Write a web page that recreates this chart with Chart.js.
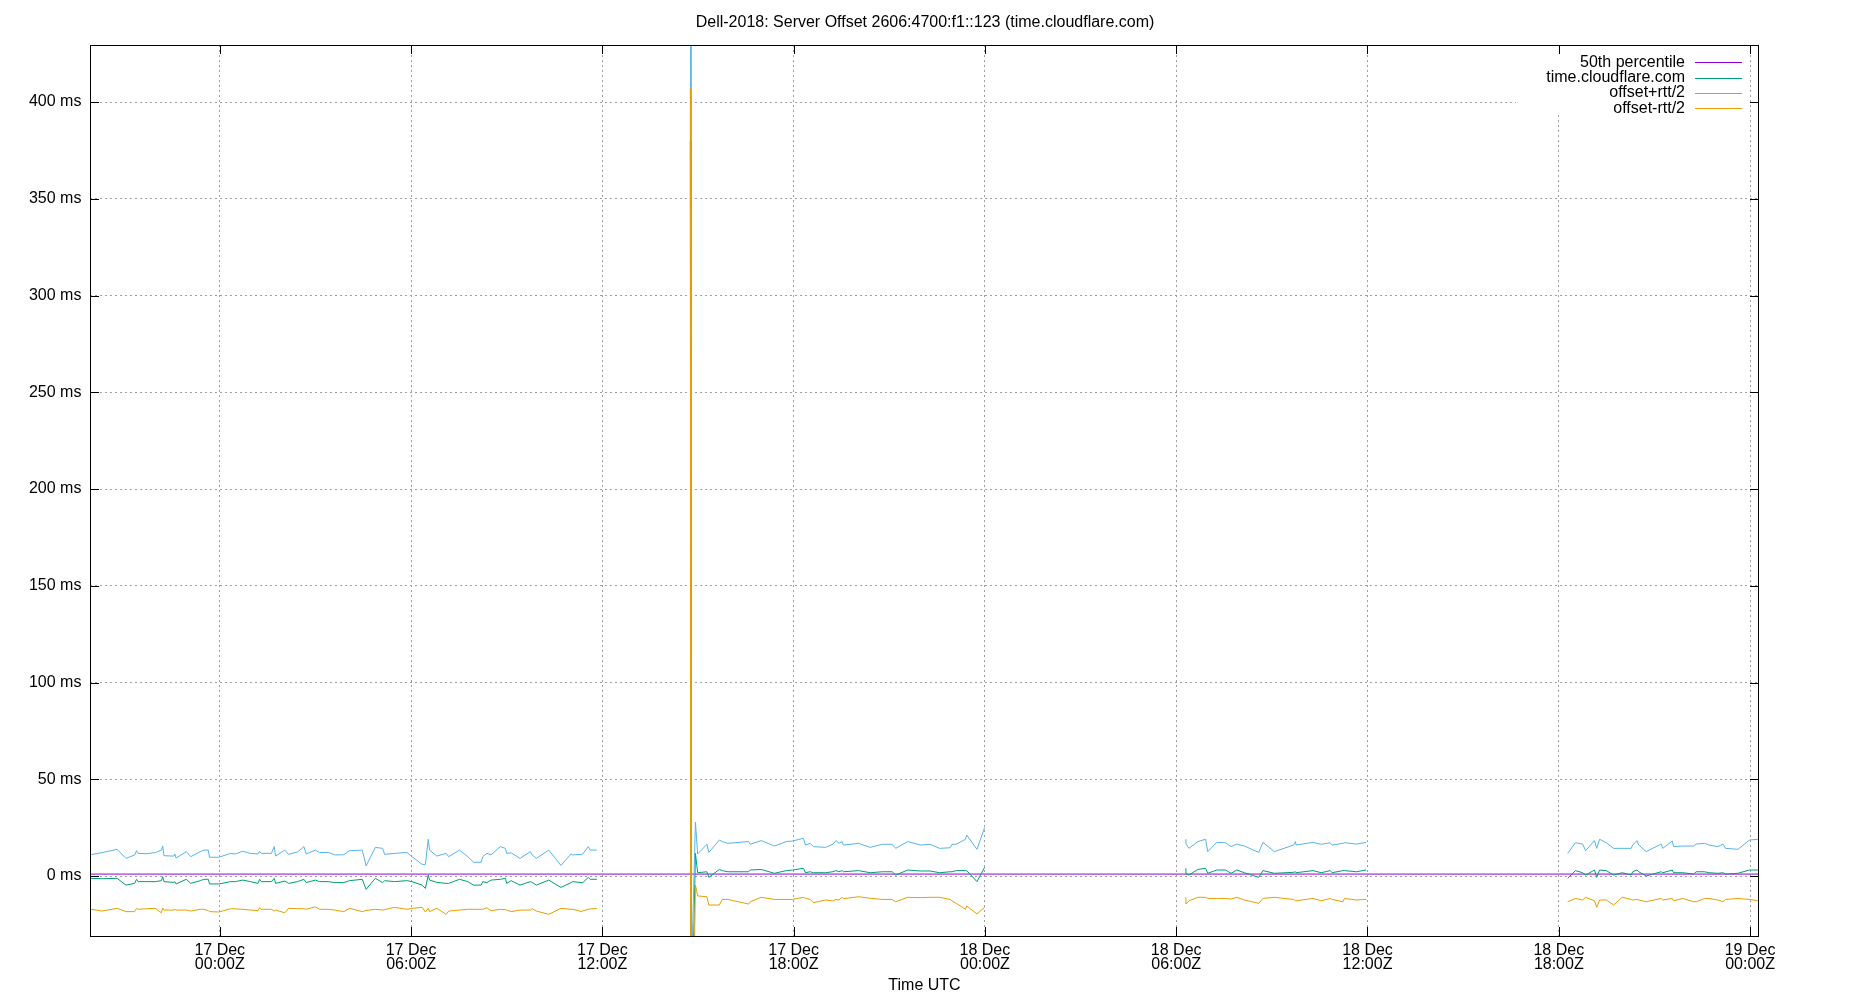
<!DOCTYPE html>
<html>
<head>
<meta charset="utf-8">
<title>Server Offset</title>
<script src="https://cdn.jsdelivr.net/npm/chart.js@4.4.1/dist/chart.umd.min.js"></script>
<style>
  html,body{margin:0;padding:0;background:#fff;}
  canvas{display:block;}
</style>
</head>
<body>
<canvas id="chart" width="1850" height="1000"></canvas>
<script>
// hours since 17 Dec 00:00Z, values in ms
const xMin = -4.07, xMax = 48.28;
const yMin = -31, yMax = 429.5;
const p50 = 1.0;
const xTickHours = [0, 6, 12, 18, 24, 30, 36, 42, 48];
const yTickMs = [0, 50, 100, 150, 200, 250, 300, 350, 400];

// segment 1 : 16 Dec 20:00 -> 17 Dec 11:50
const t1 = [-4.07,-3.69,-3.22,-2.94,-2.67,-2.61,-2.56,-2.31,-2.02,-1.83,-1.79,-1.75,-1.44,-1.41,-1.37,-1.05,-0.91,-0.61,-0.50,-0.36,-0.32,-0.03,0.34,0.49,0.72,0.96,1.20,1.25,1.30,1.62,1.71,1.75,2.04,2.16,2.44,2.64,2.71,3.00,3.13,3.40,3.61,3.89,
  4.07,4.47,4.59,4.88,5.11,5.17,5.48,5.87,6.03,6.35,6.45,6.54,6.58,6.81,7.10,7.18,7.52,7.78,7.96,8.20,8.25,8.38,8.51,8.80,8.96,9.00,9.14,9.42,9.74,9.80,9.93,10.32,10.70,11.02,11.07,11.36,11.39,11.56,11.62,11.83];
const up1 = [11.0,12.1,13.8,9.1,10.9,13.1,11.7,11.5,12.1,13.4,15.5,10.5,10.3,11.4,9.3,12.6,10.0,12.6,13.4,13.4,9.7,9.7,11.7,11.4,12.8,11.7,11.4,12.8,11.7,11.7,15.2,10.3,13.4,11.2,12.4,15.2,11.4,13.4,12.1,12.2,10.9,11.0,
  13.1,13.4,5.2,14.8,14.3,11.2,11.7,12.2,10.0,6.0,6.0,19.0,13.4,10.3,11.7,10.0,13.4,10.0,7.1,7.1,10.0,11.7,10.9,15.2,14.3,11.7,12.0,9.1,12.6,10.9,9.1,13.4,5.5,11.4,10.9,11.2,11.4,15.2,13.4,13.4];
const mid1 = [-1.2,-1.4,-1.2,-4.7,-3.8,-1.7,-2.9,-2.9,-2.9,-2.4,-0.3,-2.9,-3.3,-2.9,-4.1,-1.7,-3.8,-2.4,-1.7,-1.7,-4.1,-4.1,-2.9,-2.9,-2.1,-2.9,-3.8,-1.7,-2.9,-2.9,-1.2,-3.8,-2.6,-3.8,-2.9,-1.7,-3.4,-2.1,-2.9,-2.9,-3.4,-3.4,
  -2.4,-1.7,-6.9,-1.2,-3.4,-2.4,-2.9,-2.4,-2.9,-4.7,-6.4,0.5,-2.1,-3.3,-3.8,-3.8,-1.7,-2.9,-4.7,-4.7,-2.9,-3.4,-2.1,-1.7,-1.2,-3.8,-2.4,-4.7,-2.9,-3.3,-4.7,-2.1,-5.9,-3.4,-2.9,-3.4,-3.4,-0.7,-1.7,-1.7];
const lo1 = [-17.1,-18.1,-16.7,-18.4,-18.4,-16.7,-17.2,-16.9,-16.7,-19.0,-16.5,-17.6,-17.6,-17.2,-17.6,-17.6,-18.1,-17.2,-17.2,-17.9,-18.4,-18.6,-16.9,-17.0,-17.2,-17.6,-17.9,-16.4,-17.2,-17.2,-18.1,-17.6,-19.0,-16.7,-16.9,-16.9,-17.2,-15.9,-17.2,-17.2,-17.6,-18.4,
  -16.7,-18.4,-17.8,-17.2,-17.6,-17.4,-16.2,-17.2,-16.7,-16.2,-18.6,-16.7,-18.4,-16.7,-19.8,-18.1,-17.6,-17.2,-17.2,-17.2,-17.2,-16.4,-17.9,-17.2,-17.4,-17.6,-18.4,-17.6,-17.6,-16.9,-18.1,-19.8,-16.7,-17.2,-17.2,-18.4,-18.0,-17.2,-17.0,-16.7];

// segment 2 : 17 Dec 14:45 -> 18 Dec 00:00 (starts with the big spike)
const t2 = [14.76,14.78,14.92,14.99,15.28,15.34,15.67,15.76,15.94,16.59,16.64,16.98,17.40,17.77,17.97,18.31,18.37,18.52,18.62,19.00,19.23,19.33,19.42,19.52,19.56,20.04,20.40,20.78,21.09,21.20,21.58,21.97,22.28,22.58,22.91,22.97,23.10,23.39,23.43,23.75,23.99];
const up2 = [1500,-60,27.9,11.4,16.4,12.2,18.6,17.8,16.9,17.8,16.4,18.3,15.5,17.8,18.1,19.5,16.0,16.9,15.2,14.8,16.4,18.3,16.9,17.8,16.0,16.9,14.8,16.4,16.4,14.3,17.8,16.0,16.4,14.3,14.6,16.4,16.4,19.0,21.2,13.8,25.0];
const mid2 = [380,-100,11.7,1.7,2.2,-0.7,3.4,2.8,2.2,2.2,3.1,3.4,1.4,2.8,3.1,4.0,1.7,2.2,1.7,1.7,2.2,2.8,2.2,2.8,2.2,2.8,1.7,2.2,2.2,0.5,3.1,2.6,2.6,1.7,2.2,2.2,2.8,2.8,2.8,-2.9,4.5];
const lo2 = [407,-150,-4.7,-10.3,-10.7,-15.0,-15.0,-12.1,-12.1,-14.5,-13.3,-11.0,-12.1,-12.1,-12.1,-11.0,-11.5,-12.1,-13.8,-12.4,-12.9,-12.1,-12.4,-11.0,-11.7,-10.7,-11.5,-12.1,-12.1,-13.3,-11.0,-11.2,-11.0,-11.0,-12.1,-12.9,-14.1,-17.2,-15.5,-19.6,-16.2];

// segment 3 : 18 Dec 06:20 -> 12:00
const t3 = [30.30,30.31,30.40,30.68,30.92,30.99,31.27,31.55,31.72,31.90,32.14,32.59,32.72,33.08,33.68,33.74,33.76,34.29,34.55,34.83,34.89,35.23,35.28,35.65,35.96];
const up3 = [19.0,16.5,14.3,17.8,19.0,12.6,17.4,17.2,15.2,16.5,15.5,12.2,17.4,12.6,16.0,17.8,16.0,17.4,16.4,17.2,16.0,16.9,17.2,16.5,17.4];
const mid3 = [4.0,1.0,0.5,3.4,4.0,1.4,3.1,3.1,1.4,3.1,1.7,-0.7,2.8,1.4,1.9,2.2,1.7,2.8,1.7,2.8,1.7,2.8,2.8,2.2,3.1];
const lo3 = [-11.0,-14.5,-12.8,-11.0,-11.0,-11.6,-11.6,-11.6,-11.9,-11.0,-12.4,-14.1,-11.6,-11.0,-12.1,-12.8,-12.8,-11.6,-12.8,-11.6,-12.1,-13.3,-11.6,-12.4,-12.1];

// segment 4 : 18 Dec 18:15 -> 19 Dec 00:15
const t4 = [42.28,42.52,42.75,42.84,43.12,43.19,43.28,43.49,43.72,43.99,44.27,44.32,44.45,44.51,44.74,45.21,45.26,45.56,45.60,45.89,46.23,46.31,46.57,46.71,46.99,47.15,47.23,47.62,47.98,48.26];
const up4 = [11.7,17.2,16.5,13.1,18.3,14.3,19.0,17.2,14.3,14.3,14.3,16.0,18.3,16.0,12.6,16.5,14.3,18.1,15.2,15.5,15.5,16.5,16.9,16.0,15.2,16.5,14.3,13.8,18.6,19.0];
const mid4 = [-1.2,2.8,1.7,0.5,3.1,-0.7,3.1,2.8,0.5,1.7,0.5,2.2,3.1,2.2,0.0,2.2,1.7,3.1,1.7,1.7,1.0,2.2,2.2,1.7,1.4,1.7,1.0,1.4,3.1,3.1];
const lo4 = [-13.3,-11.6,-12.4,-11.0,-12.8,-16.2,-12.4,-12.4,-15.0,-11.0,-12.1,-12.4,-12.1,-12.4,-13.3,-11.6,-12.4,-11.6,-12.8,-11.6,-13.3,-13.3,-11.6,-11.6,-12.4,-13.3,-12.1,-11.6,-12.1,-12.8];

const segTimes = [t1, t2, t3, t4];
const segUp = [up1, up2, up3, up4];
const segMid = [mid1, mid2, mid3, mid4];
const segLo = [lo1, lo2, lo3, lo4];

const colP50 = '#9400d3', colMid = '#009e73', colUp = '#56b4e9', colLo = '#e69f00';
const FONT = "'Liberation Sans', Arial, Helvetica, sans-serif";

function series(vals){
    const out = [];
    segTimes.forEach((ts, s)=>{
        ts.forEach((t, i)=>out.push({x:t, y:vals[s][i]}));
        out.push({x:ts[ts.length-1]+0.5, y:null}); // break the line between segments
    });
    return out;
}

function tickLabel(h){
    const day = 17 + Math.floor(h/24);
    const hh = String(((h%24)+24)%24).padStart(2,'0');
    return [day + ' Dec', hh + ':00Z'];
}

// gnuplot-like frame, inward ticks and key box
const framePlugin = {
    id:'frame',
    afterDatasetsDraw(chart){
        const {ctx, chartArea:a, scales:{x, y}} = chart;
        ctx.save();
        // key
        const keyItems = [['50th percentile', colP50], ['time.cloudflare.com', colMid], ['offset+rtt/2', colUp], ['offset-rtt/2', colLo]];
        ctx.fillStyle = '#fff';
        ctx.fillRect(1516, a.top + 1, 234, 69);
        ctx.font = '16px ' + FONT;
        ctx.textAlign = 'right';
        ctx.textBaseline = 'middle';
        keyItems.forEach(([label, col], i)=>{
            const yy = 62.3 + i*15.35;
            ctx.fillStyle = '#000';
            ctx.fillText(label, 1685, yy);
            ctx.strokeStyle = col;
            ctx.lineWidth = 1;
            ctx.beginPath();
            ctx.moveTo(1695, Math.round(yy)+0.5);
            ctx.lineTo(1742, Math.round(yy)+0.5);
            ctx.stroke();
        });
        // border
        ctx.strokeStyle = '#000';
        ctx.lineWidth = 1;
        ctx.strokeRect(a.left + 0.5, a.top + 0.5, a.right - a.left - 1, a.bottom - a.top);
        // ticks
        const tl = 9;
        ctx.beginPath();
        xTickHours.forEach(h=>{
            const px = Math.round(x.getPixelForValue(h)) + 0.5;
            ctx.moveTo(px, a.bottom); ctx.lineTo(px, a.bottom - tl);
            ctx.moveTo(px, a.top); ctx.lineTo(px, a.top + tl);
        });
        yTickMs.forEach(v=>{
            const py = Math.round(y.getPixelForValue(v)) + 0.5;
            ctx.moveTo(a.left, py); ctx.lineTo(a.left + tl, py);
            ctx.moveTo(a.right, py); ctx.lineTo(a.right - tl, py);
        });
        ctx.stroke();
        ctx.restore();
    }
};

Chart.defaults.font.family = FONT;
Chart.defaults.font.size = 16;
Chart.defaults.color = '#000';

new Chart(document.getElementById('chart').getContext('2d'), {
    type:'line',
    data:{
        datasets:[
            {label:'50th percentile', data:[{x:xMin, y:p50}, {x:xMax, y:p50}], borderColor:colP50, order:4},
            {label:'time.cloudflare.com', data:series(segMid), borderColor:colMid, order:3},
            {label:'offset+rtt/2', data:series(segUp), borderColor:colUp, order:2},
            {label:'offset-rtt/2', data:series(segLo), borderColor:colLo, order:1}
        ]
    },
    options:{
        responsive:false,
        devicePixelRatio:1,
        animation:false,
        layout:{padding:0},
        elements:{
            line:{borderWidth:1, tension:0, fill:false},
            point:{radius:0, hoverRadius:0}
        },
        spanGaps:false,
        plugins:{
            legend:{display:false},
            tooltip:{enabled:false},
            title:{
                display:true,
                text:'Dell-2018: Server Offset 2606:4700:f1::123 (time.cloudflare.com)',
                font:{size:16, weight:'normal'},
                color:'#000',
                padding:{top:12.5, bottom:13.3}
            }
        },
        scales:{
            x:{
                type:'linear',
                min:xMin, max:xMax,
                afterBuildTicks:s=>{ s.ticks = xTickHours.map(v=>({value:v})); },
                afterFit:s=>{ s.height = 64; },
                ticks:{
                    autoSkip:false, maxRotation:0, minRotation:0,
                    padding:7.4,
                    font:{size:16, lineHeight:0.89},
                    callback:v=>tickLabel(v)
                },
                grid:{color:'#a0a0a0', lineWidth:1, drawTicks:false},
                border:{display:false, dash:[2,3]},
                title:{display:true, text:'Time UTC', font:{size:16}, padding:{top:0, bottom:4.4}}
            },
            y:{
                type:'linear',
                min:yMin, max:yMax,
                afterBuildTicks:s=>{ s.ticks = yTickMs.map(v=>({value:v})); },
                afterFit:s=>{ s.width = 90; },
                ticks:{padding:8.6, font:{size:16}, callback:v=>v + ' ms'},
                grid:{color:'#a0a0a0', lineWidth:1, drawTicks:false},
                border:{display:false, dash:[2,3]}
            },
            // empty right-hand margin, keeps the plot where gnuplot put it
            yRight:{
                type:'linear',
                position:'right',
                min:yMin, max:yMax,
                afterFit:s=>{ s.width = 91; },
                ticks:{display:false},
                grid:{display:false, drawOnChartArea:false},
                border:{display:false}
            }
        }
    },
    plugins:[framePlugin]
});
</script>
</body>
</html>
